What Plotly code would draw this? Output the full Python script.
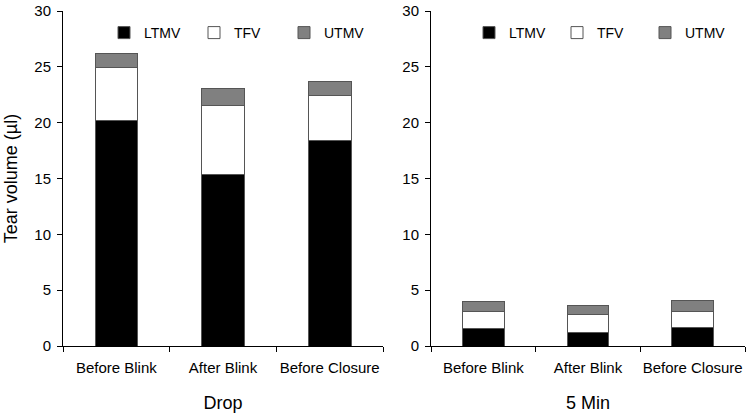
import plotly.graph_objects as go

categories = ["Before Blink", "After Blink", "Before Closure"]
series_names = ["LTMV", "TFV", "UTMV"]
series_colors = ["#000000", "#ffffff", "#808080"]

drop_ltmv = [20.2, 15.4, 18.4]
drop_tfv = [4.7, 6.1, 4.0]
drop_utmv = [1.3, 1.6, 1.3]

min5_ltmv = [1.6, 1.2, 1.7]
min5_tfv = [1.5, 1.6, 1.4]
min5_utmv = [0.9, 0.85, 0.95]

y_ticks = [0, 5, 10, 15, 20, 25, 30]
panel_titles = ["Drop", "5 Min"]

FONT = "Liberation Sans, Arial, sans-serif"
fig = go.Figure()

panels = [
    ("x", "y", "legend", [drop_ltmv, drop_tfv, drop_utmv]),
    ("x2", "y2", "legend2", [min5_ltmv, min5_tfv, min5_utmv]),
]
for xa, ya, lg, vals in panels:
    for name, color, v in zip(series_names, series_colors, vals):
        fig.add_trace(go.Bar(
            x=categories, y=v, name=name, xaxis=xa, yaxis=ya, legend=lg,
            marker=dict(color=color, line=dict(color="#555555", width=1)),
        ))

axis_common = dict(showline=True, linecolor="black", linewidth=1, showgrid=False,
                   zeroline=False, ticks="outside", tickcolor="black", ticklen=5,
                   automargin=False,
                   tickfont=dict(family=FONT, size=15, color="black"))

PH = 335.0
fig.update_layout(
    width=750, height=416,
    paper_bgcolor="white", plot_bgcolor="white",
    barmode="stack", bargap=0.6,
    margin=dict(l=0, r=0, t=11, b=70),
    font=dict(family=FONT, color="black"),
    xaxis=dict(domain=[63/750, 383/750], anchor="y", tickson="boundaries", tickangle=0,
               ticklabelstandoff=8,
               title=dict(text=panel_titles[0], font=dict(size=18), standoff=21), **axis_common),
    yaxis=dict(domain=[0, 1], anchor="x", range=[0, 30], tickvals=y_ticks, ticklabelstandoff=3,
               title=dict(text="Tear volume (µl)", font=dict(size=18), standoff=12), **axis_common),
    xaxis2=dict(domain=[431/750, 745/750], anchor="y2", tickson="boundaries", tickangle=0,
                ticklabelstandoff=8,
                title=dict(text=panel_titles[1], font=dict(size=18), standoff=21), **axis_common),
    yaxis2=dict(domain=[0, 1], anchor="x2", range=[0, 30], tickvals=y_ticks, ticklabelstandoff=3,
                **axis_common),
    legend=dict(orientation="h", x=104/750, xanchor="left",
                y=1-6/PH, yanchor="top", traceorder="normal",
                entrywidth=45, font=dict(size=14), bgcolor="rgba(0,0,0,0)"),
    legend2=dict(orientation="h", x=469/750, xanchor="left",
                 y=1-6/PH, yanchor="top", traceorder="normal",
                 entrywidth=43, font=dict(size=14), bgcolor="rgba(0,0,0,0)"),
)

fig.write_html("out.html", config={"displayModeBar": False},
               post_script="document.body.style.margin='0';")
